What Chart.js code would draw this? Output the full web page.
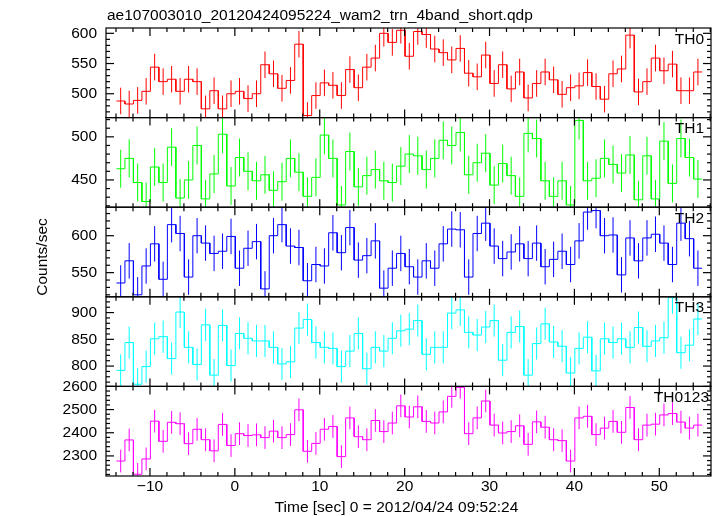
<!DOCTYPE html>
<html><head><meta charset="utf-8">
<script src="https://cdn.jsdelivr.net/npm/chart.js@4/dist/chart.umd.min.js"></script>
<style>html,body{margin:0;padding:0;background:#fff}#wrap{width:717px;height:516px;position:relative}</style>
</head><body><div id="wrap"><canvas id="c" width="717" height="516"></canvas></div>
<script>
// ---- data ----
const titleText = 'ae107003010_20120424095224_wam2_trn_4band_short.qdp';
const xTitle = 'Time [sec] 0 = 2012/04/24 09:52:24';
const yTitle = 'Counts/sec';
const firstBinCenter = -13.45;   // sec
const binWidth = 1.0;            // sec

const th0 = [488,483,489,504,544,520,524,504,524,520,475,505,475,500,504,492,500,548,533,509,522,582,464,497,518,514,497,540,510,544,559,600,585,
             605,562,603,598,574,568,556,575,534,528,564,517,548,508,536,493,517,536,523,499,510,513,535,512,491,533,541,597,503,520,559,538,549,505,505,536];
const th1 = [463,475,447,425,465,447,488,429,450,490,428,457,503,443,476,460,449,456,438,448,475,459,431,453,502,475,421,483,442,455,462,449,447,
             466,480,478,462,475,496,490,505,456,470,481,444,469,455,431,504,498,449,431,449,421,519,449,452,475,468,458,479,427,478,428,495,446,498,476,451];
const th2 = [536,566,520,559,589,541,615,603,544,600,590,576,579,599,556,583,592,528,600,615,586,584,539,561,559,604,577,611,567,573,593,529,556,
             576,558,544,566,556,589,609,608,544,603,617,586,569,578,589,569,590,558,568,579,561,593,632,634,600,601,547,597,566,597,602,590,561,617,596,556];
const th3 = [792,844,766,799,851,855,814,901,835,803,877,783,876,801,861,852,847,847,835,804,808,871,887,844,835,833,799,828,861,795,835,828,852,
             866,869,885,822,835,835,899,905,863,858,873,885,811,863,874,783,842,879,845,837,787,833,854,791,851,844,851,835,872,837,847,853,928,825,839,888];
const th0123 = [2278,2369,2221,2287,2450,2363,2445,2439,2353,2415,2370,2322,2436,2345,2396,2388,2391,2379,2407,2379,2392,2499,2320,2354,2415,2427,2297,2464,2383,2370,2453,2405,2442,
                2516,2468,2512,2449,2442,2490,2557,2596,2396,2464,2537,2433,2399,2405,2430,2350,2447,2424,2370,2366,2278,2464,2471,2392,2420,2449,2402,2509,2370,2433,2437,2477,2483,2446,2420,2433];
const errTH0 = 22, errTH1 = 22, errTH2 = 24, errTH3 = 30, errTH0123 = 49;

const xTicks = [-10,0,10,20,30,40,50];
const xTickLabels = ['\u221210','0','10','20','30','40','50'];
const ticksTH0 = [500,550,600];
const ticksTH1 = [450,500];
const ticksTH2 = [550,600];
const ticksTH3 = [800,850,900];
const ticksTH0123 = [2300,2400,2500,2600];

const panelNames = ['TH0','TH1','TH2','TH3','TH0123'];
const panelValues = [th0, th1, th2, th3, th0123];
const panelErrors = [errTH0, errTH1, errTH2, errTH3, errTH0123];
const panelTicks = [ticksTH0, ticksTH1, ticksTH2, ticksTH3, ticksTH0123];
const panelMin = [460.5, 418.4, 517.3, 762, 2213.4];
const panelMax = [608.8, 522.3, 638.6, 929.5, 2600];
const panelMinor = [10, 10, 10, 10, 20];
const xMin = -15.18, xMax = 56.09, xMinorStep = 2, xMajorStep = 10;

// ---- styles ----
const panelColors = ['#ff0000','#00ff00','#0000ff','#00ffff','#ff00ff'];
const FONT = 'Liberation Sans, Arial, Helvetica, sans-serif';
const FS = 15.5;

// ---- build datasets ----
const datasets = [];
panelValues.forEach((vals, k) => {
  const steps = [], errs = [];
  vals.forEach((v, i) => {
    const t = firstBinCenter + i * binWidth;
    steps.push({x: t - binWidth / 2, y: v}, {x: t + binWidth / 2, y: v});
    errs.push({x: t, y: v - panelErrors[k]}, {x: t, y: v + panelErrors[k]}, {x: t, y: null});
  });
  const common = {type: 'line', xAxisID: 'x', yAxisID: 'y' + k, borderColor: panelColors[k],
    borderWidth: 1, pointRadius: 0, tension: 0, fill: false, clip: 0};
  datasets.push(Object.assign({data: steps}, common));
  datasets.push(Object.assign({data: errs, spanGaps: false}, common));
});

const scales = {
  x: {
    type: 'linear', position: 'bottom', min: xMin, max: xMax,
    grid: {display: false, drawTicks: false}, border: {display: false},
    afterBuildTicks: s => { s.ticks = xTicks.map(v => ({value: v})); },
    afterFit: s => { s.height = 40; },
    ticks: {padding: 1, color: '#000', font: {family: FONT, size: FS}, maxRotation: 0, autoSkip: false,
      callback: v => xTickLabels[xTicks.indexOf(v)]}
  }
};
for (let k = panelNames.length - 1; k >= 0; k--) {
  scales['y' + k] = {
    type: 'linear', position: 'left', stack: 'panels', stackWeight: 1,
    min: panelMin[k], max: panelMax[k],
    grid: {display: false, drawTicks: false}, border: {display: false},
    afterBuildTicks: s => { s.ticks = panelTicks[k].map(v => ({value: v})); },
    afterFit: s => { s.width = 106; },
    ticks: {padding: 9, color: '#000', font: {family: FONT, size: FS}, autoSkip: false,
      callback: v => String(v)}
  };
}

const clipPlugin = {
  id: 'panelClip',
  beforeDatasetDraw(chart, args) {
    const m = args.meta, ctx = chart.ctx;
    ctx.save();
    ctx.beginPath();
    ctx.rect(m.xScale.left, m.yScale.top, m.xScale.right - m.xScale.left, m.yScale.bottom - m.yScale.top);
    ctx.clip();
  },
  afterDatasetDraw(chart) { chart.ctx.restore(); }
};

const framePlugin = {
  id: 'frame',
  afterDraw(chart) {
    const ctx = chart.ctx, xs = chart.scales.x;
    const L = xs.left, R = xs.right;
    ctx.save();
    ctx.strokeStyle = '#000';
    ctx.lineWidth = 1.2;
    const seg = (x1, y1, x2, y2) => { ctx.beginPath(); ctx.moveTo(x1, y1); ctx.lineTo(x2, y2); ctx.stroke(); };
    panelNames.forEach((name, k) => {
      const ys = chart.scales['y' + k];
      const T = ys.top, B = ys.bottom;
      ctx.strokeRect(L, T, R - L, B - T);
      const n0 = Math.ceil(xMin / xMinorStep), n1 = Math.floor(xMax / xMinorStep);
      for (let n = n0; n <= n1; n++) {
        const v = n * xMinorStep;
        const px = xs.getPixelForValue(v);
        const len = (Math.abs(v % xMajorStep) < 1e-9) ? 8 : 4;
        seg(px, B, px, B - len);
        seg(px, T, px, T + len);
      }
      const st = panelMinor[k];
      const m0 = Math.ceil(panelMin[k] / st), m1 = Math.floor(panelMax[k] / st);
      for (let n = m0; n <= m1; n++) {
        const v = n * st;
        const py = ys.getPixelForValue(v);
        const len = panelTicks[k].includes(v) ? 8 : 4;
        seg(L, py, L + len, py);
        seg(R, py, R - len, py);
      }
      ctx.fillStyle = '#000';
      ctx.font = FS + 'px ' + FONT;
      ctx.textAlign = 'right';
      ctx.textBaseline = 'alphabetic';
      ctx.fillText(name, k === panelNames.length - 1 ? 709 : 704, T + 15.5);
    });
    ctx.fillStyle = '#000';
    ctx.font = FS + 'px ' + FONT;
    ctx.textAlign = 'left';
    ctx.textBaseline = 'alphabetic';
    ctx.fillText(titleText, 107, 20);
    ctx.textAlign = 'center';
    ctx.fillText(xTitle, 396.5, 512);
    ctx.save();
    ctx.translate(47, 257);
    ctx.rotate(-Math.PI / 2);
    ctx.fillText(yTitle, 0, 0);
    ctx.restore();
    ctx.restore();
  }
};

new Chart(document.getElementById('c'), {
  type: 'line',
  data: {datasets},
  options: {
    responsive: false, maintainAspectRatio: false, animation: false, devicePixelRatio: 1,
    events: [],
    layout: {padding: {left: 0, right: 6, top: 28, bottom: 0}},
    plugins: {legend: {display: false}, tooltip: {enabled: false}, title: {display: false}},
    scales
  },
  plugins: [clipPlugin, framePlugin]
});
</script>
</body></html>
